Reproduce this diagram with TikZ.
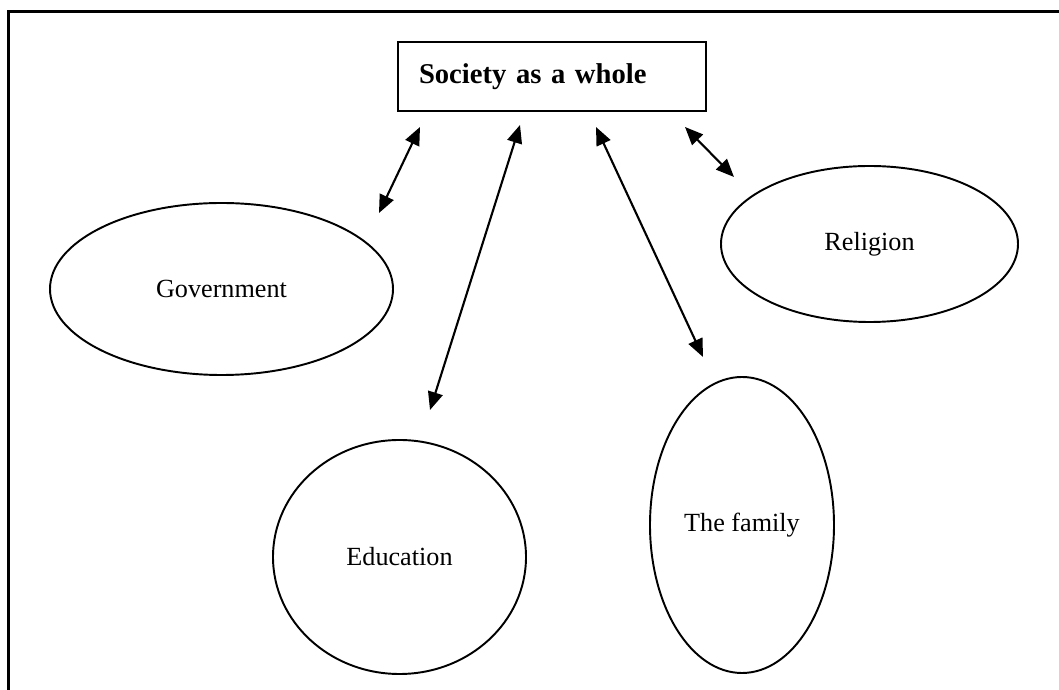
\documentclass[tikz,border=0pt]{standalone}
\usepackage{fontspec}
\setmainfont{Liberation Serif}
\usetikzlibrary{shapes.geometric,arrows.meta}

\begin{document}
\begin{tikzpicture}[x=0.2mm, y=-0.2mm, main/.style = {draw, ellipse, line width=1.1pt, inner sep=0pt, font=\fontsize{14.9}{18}\selectfont}, link/.style = {{Triangle[length=3.6mm, width=3mm]}-{Triangle[length=3.6mm, width=3mm]}, line width=1.2pt}]
	\useasboundingbox (0, 0) rectangle (1059, 690);
	\clip (0, 0) rectangle (1059, 690);
	\draw[line width=1.7pt] (8.5, 12) rectangle (1090, 720);
	\node[draw, line width=1.4pt, minimum height=1.38cm, text width=5.32cm, inner xsep=0.42cm, align=left, font=\fontsize{16.3}{20}\selectfont\bfseries] (S) at (552, 76.5){Society as a whole};
	\node[main, minimum width=6.86cm, minimum height=3.44cm] (G) at (221.5, 289){Government};
	\node[main, minimum width=5.94cm, minimum height=3.12cm] (R) at (869.5, 244){Religion};
	\node[main, minimum width=5.06cm, minimum height=4.68cm] (E) at (399.5, 557){Education};
	\node[main, minimum width=3.68cm, minimum height=5.92cm] (F) at (742, 525){The family};
	\coordinate (g1) at (420, 127);
	\coordinate (g2) at (379, 213);
	\coordinate (e1) at (520, 125);
	\coordinate (e2) at (430, 410);
	\coordinate (f1) at (596, 127);
	\coordinate (f2) at (703, 357);
	\coordinate (r1) at (685, 127);
	\coordinate (r2) at (734, 177);
	\draw[link] (g1) -- (g2);
	\draw[link] (e1) -- (e2);
	\draw[link] (f1) -- (f2);
	\draw[link] (r1) -- (r2);
\end{tikzpicture}
\end{document}
